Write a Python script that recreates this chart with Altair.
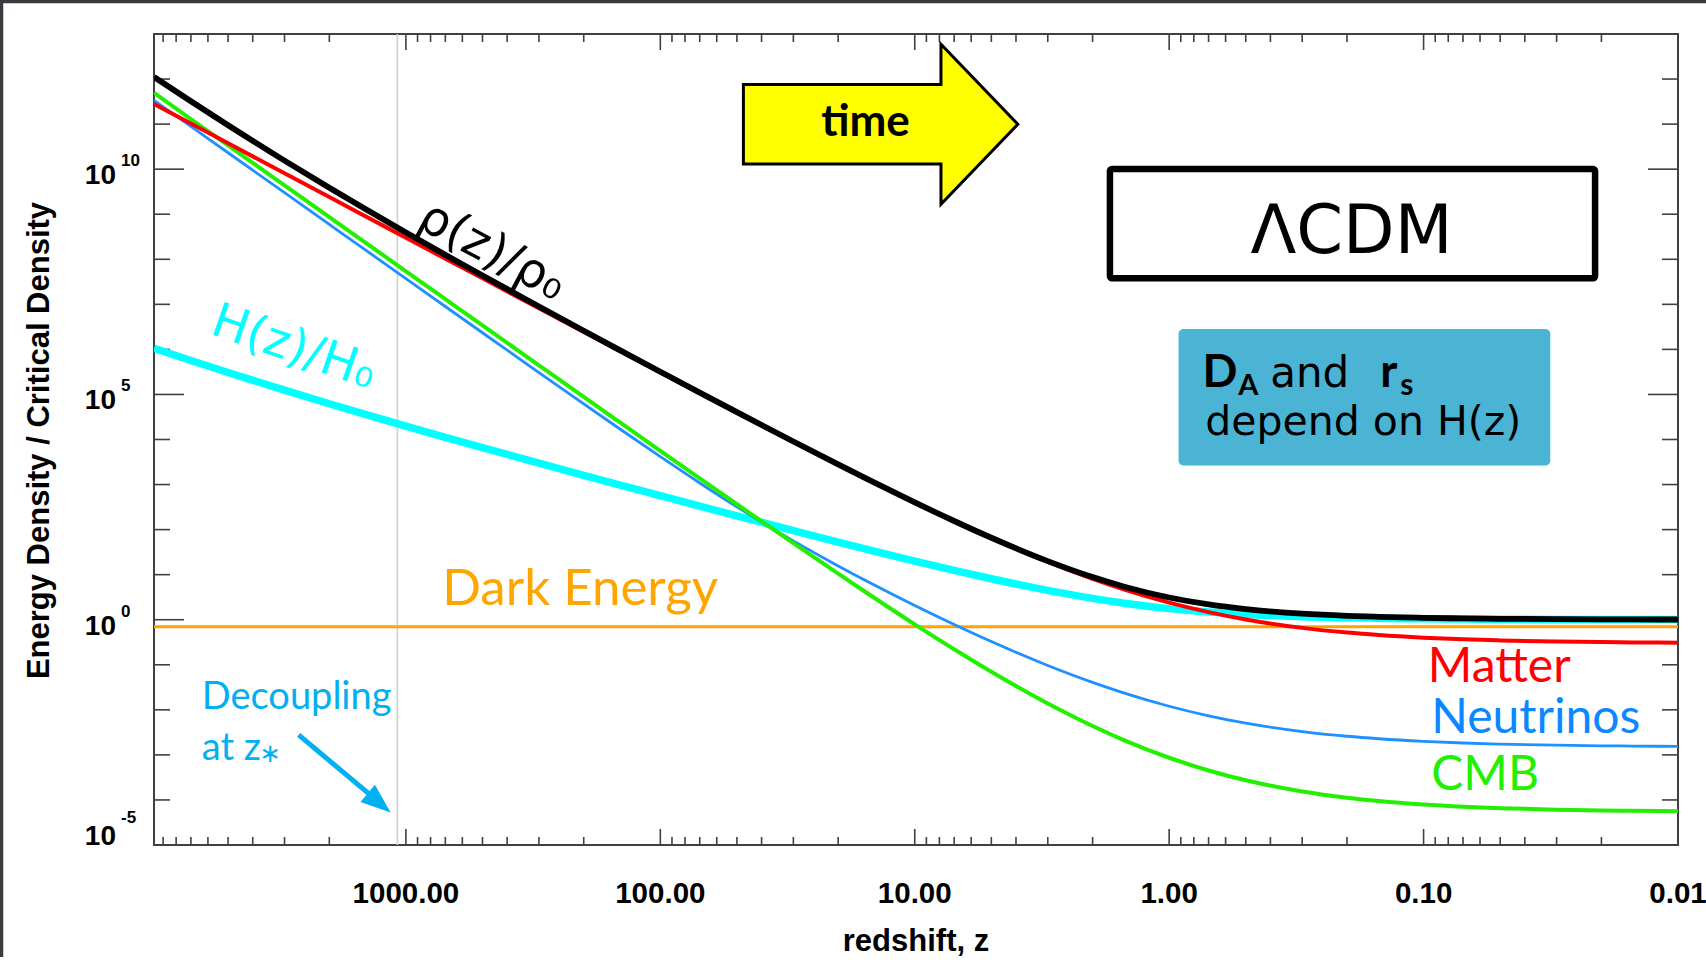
import altair as alt
import pandas as pd

# ---------------- values ----------------
Z = [9775, 7000, 5000, 3000, 2000, 1500, 1000, 700, 500, 300, 200, 150, 100, 70, 50,
     30, 20, 15, 10, 7, 5, 3, 2, 1.5, 1, 0.7, 0.5, 0.3, 0.2, 0.15, 0.1, 0.07, 0.05,
     0.03, 0.02, 0.015, 0.01]
MATTER = [2.80e11, 1.029e11, 3.752e10, 8.11e9, 2.404e9, 1.0145e9, 3.009e8, 1.033e8,
          3.772e7, 8.18e6, 2.436e6, 1.033e6, 3.091e5, 1.0737e5, 3.98e4, 8937, 2778,
          1229, 399.3, 153.6, 64.8, 19.2, 8.1, 4.688, 2.4, 1.474, 1.0125, 0.6591,
          0.5184, 0.4563, 0.3993, 0.3675, 0.3473, 0.3278, 0.3184, 0.3137, 0.3091]
CMB = [4.93e11, 1.297e11, 3.379e10, 4.38e9, 8.66e8, 2.741e8, 5.42e7, 1.304e7, 3.402e6,
       4.434e5, 8.81e4, 2.808e4, 5619, 1372, 365.3, 49.87, 10.50, 3.539, 0.7906,
       0.2212, 0.0700, 0.01382, 0.004374, 0.002109, 8.64e-4, 4.51e-4, 2.734e-4,
       1.542e-4, 1.120e-4, 9.445e-5, 7.906e-5, 7.078e-5, 6.564e-5, 6.078e-5,
       5.845e-5, 5.731e-5, 5.619e-5]
NEUTRINOS = [3.38e11, 8.89e10, 2.314e10, 3.00e9, 5.93e8, 1.878e8, 3.717e7, 8.948e6,
             2.339e6, 3.064e5, 6.161e4, 1.992e4, 4149, 1083, 319.8, 56.26, 15.64,
             6.605, 2.069, 0.7828, 0.3275, 0.09647, 0.04061, 0.02348, 0.01202,
             7.377e-3, 5.066e-3, 3.297e-3, 2.593e-3, 2.282e-3, 1.997e-3, 1.838e-3,
             1.736e-3, 1.639e-3, 1.592e-3, 1.569e-3, 1.546e-3]
TOTAL = [1.111e12, 3.215e11, 9.445e10, 1.549e10, 3.863e9, 1.4764e9, 3.923e8, 1.2529e8,
         4.346e7, 8.929e6, 2.586e6, 1.081e6, 3.1887e5, 1.0983e5, 4.0486e4, 9044, 2805,
         1240, 402.9, 155.3, 65.9, 20.01, 8.845, 5.413, 3.113, 2.182, 1.718, 1.363,
         1.221, 1.1586, 1.1014, 1.0694, 1.0491, 1.0295, 1.0200, 1.0153, 1.0107]
HUBBLE = [1.054e6, 5.67e5, 3.073e5, 1.245e5, 6.215e4, 3.842e4, 1.981e4, 1.119e4, 6592,
          2988, 1608, 1040, 564.7, 331.4, 201.2, 95.1, 52.96, 35.21, 20.07, 12.46,
          8.118, 4.473, 2.974, 2.327, 1.764, 1.477, 1.311, 1.167, 1.105, 1.076, 1.049,
          1.034, 1.024, 1.015, 1.010, 1.008, 1.005]
DARK_ENERGY = 0.7
Z_DECOUPLING = 1080

# axis ticks / labels
X_DOMAIN = [0.01, 9775]
Y_DOMAIN = [1e-5, 1e13]
X_MAJOR = [1000, 100, 10, 1, 0.1, 0.01]
X_LABELS = ["1000.00", "100.00", "10.00", "1.00", "0.10", "0.01"]
X_MINOR = [9000, 8000, 7000, 6000, 5000, 4000, 3000, 2000,
           900, 800, 700, 600, 500, 400, 300, 200,
           90, 80, 70, 60, 50, 40, 30, 20,
           9, 8, 7, 6, 5, 4, 3, 2,
           0.9, 0.8, 0.7, 0.6, 0.5, 0.4, 0.3, 0.2,
           0.09, 0.08, 0.07, 0.06, 0.05, 0.04, 0.03, 0.02]
Y_MAJOR = [1e10, 1e5, 1, 1e-5]
Y_MINOR = [1e12, 1e11, 1e9, 1e8, 1e7, 1e6, 1e4, 1e3, 1e2, 1e1,
           1e-1, 1e-2, 1e-3, 1e-4]
Y_LABEL_VALUES = [1e10, 1e5, 1]
Y_LABEL_EXP = ["10", "5", "0"]
Y_BOTTOM_VALUE = [1e-5]
Y_BOTTOM_EXP = ["-5"]
X_TITLE = "redshift, z"
Y_TITLE = "Energy Density / Critical Density"

# ---------------- layout / style ----------------
W, H = 1524, 811
PAD = {"left": 154, "top": 34, "right": 28, "bottom": 112}
AXIS_FONT = "Liberation Sans"
LABEL_FONT = "Lato"
BOX_FONT = "DejaVu Sans"
TICK_COLOR = "#404040"

xs = alt.Scale(type="log", domain=X_DOMAIN, reverse=True, nice=False)
ys = alt.Scale(type="log", domain=Y_DOMAIN, nice=False)

df = pd.DataFrame({"z": Z, "matter": MATTER, "cmb": CMB, "nu": NEUTRINOS,
                   "total": TOTAL, "hubble": HUBBLE})


def X(field):
    return alt.X(field, type="quantitative", scale=xs, axis=None)


def Y(field):
    return alt.Y(field, type="quantitative", scale=ys, axis=None)


def line(col, color, width):
    return alt.Chart(df).mark_line(color=color, strokeWidth=width, interpolate="monotone",
                                   clip=True, strokeJoin="round").encode(
        x=X("z"), y=Y(col))


def one(**cols):
    return pd.DataFrame({k: [v] for k, v in cols.items()})


def text(t, zx, yv, **kw):
    return alt.Chart(one(x=zx, y=yv, t=t)).mark_text(**kw).encode(
        x=X("x"), y=Y("y"), text="t:N")


layers = []

# frame strips of the slide (decoration) and a white right margin
layers.append(alt.Chart(one(a=0)).mark_rule(color="white", strokeWidth=4).encode(
    x=alt.value(W + PAD["right"] - 1), y=alt.value(-PAD["top"]),
    y2=alt.value(H + PAD["bottom"])))
layers.append(alt.Chart(one(a=0)).mark_rule(color="#383c41", strokeWidth=3.5).encode(
    x=alt.value(-152.5), y=alt.value(-34), y2=alt.value(H + PAD["bottom"])))
layers.append(alt.Chart(one(a=0)).mark_rule(color="#383c41", strokeWidth=3.5).encode(
    y=alt.value(-32.5), x=alt.value(-154), x2=alt.value(W + PAD["right"])))


# axis ticks (inward, drawn as rules through the scales)
def xticks(vals, length, top):
    d = pd.DataFrame({"v": vals})
    if top:
        enc = dict(y=alt.value(0), y2=alt.value(length))
    else:
        enc = dict(y=alt.value(H), y2=alt.value(H - length))
    return alt.Chart(d).mark_rule(color=TICK_COLOR, strokeWidth=1.6).encode(x=X("v"), **enc)


def yticks(vals, length, right):
    d = pd.DataFrame({"v": vals})
    if right:
        enc = dict(x=alt.value(W), x2=alt.value(W - length))
    else:
        enc = dict(x=alt.value(0), x2=alt.value(length))
    return alt.Chart(d).mark_rule(color=TICK_COLOR, strokeWidth=1.6).encode(y=Y("v"), **enc)


layers += [xticks(X_MAJOR, 16, False), xticks(X_MINOR, 8, False),
           xticks(X_MAJOR, 16, True), xticks(X_MINOR, 8, True),
           yticks(Y_MAJOR, 30, False), yticks(Y_MINOR, 16, False),
           yticks(Y_MAJOR, 30, True), yticks(Y_MINOR, 16, True)]

# x tick labels
layers.append(alt.Chart(pd.DataFrame({"v": X_MAJOR, "t": X_LABELS})).mark_text(
    font=AXIS_FONT, fontWeight="bold", fontSize=29.5, align="center", baseline="alphabetic",
    color="black").encode(x=X("v"), y=alt.value(H + 58), text="t:N"))

# y tick labels 10^n
ylab = pd.DataFrame({"v": Y_LABEL_VALUES, "e": Y_LABEL_EXP})
ybot = pd.DataFrame({"v": Y_BOTTOM_VALUE, "e": Y_BOTTOM_EXP})
for d, shift in ((ylab, 0), (ybot, -15)):
    layers.append(alt.Chart(d).mark_text(text="10", font=AXIS_FONT, fontWeight="bold",
                                         fontSize=28, align="right", baseline="alphabetic",
                                         dy=15 + shift, color="black").encode(
        x=alt.value(-38), y=Y("v")))
    layers.append(alt.Chart(d).mark_text(font=AXIS_FONT, fontWeight="bold", fontSize=17,
                                         align="left", baseline="alphabetic",
                                         dy=-3 + shift * 1.25, color="black").encode(
        x=alt.value(-33), y=Y("v"), text="e:N"))

# axis titles
layers.append(alt.Chart(one(t=X_TITLE)).mark_text(
    font=AXIS_FONT, fontWeight="bold", fontSize=31, align="center", baseline="alphabetic",
    color="black").encode(x=alt.value(W / 2), y=alt.value(H + 106), text="t:N"))
layers.append(alt.Chart(one(t=Y_TITLE)).mark_text(
    font=AXIS_FONT, fontWeight="bold", fontSize=31, align="center", baseline="alphabetic",
    angle=270, color="black").encode(x=alt.value(-105), y=alt.value(H / 2 + 1), text="t:N"))

# decoupling line
layers.append(alt.Chart(one(zd=Z_DECOUPLING)).mark_rule(color="#cfcfcf", strokeWidth=1.6)
              .encode(x=X("zd")))

# dark energy
layers.append(alt.Chart(one(de=DARK_ENERGY)).mark_rule(color="#FFA500", strokeWidth=3)
              .encode(y=Y("de")))

# curves
layers += [line("hubble", "#00FFFF", 7.5),
           line("nu", "#1E90FF", 2.8),
           line("cmb", "#22F000", 4),
           line("matter", "#FF0000", 4),
           line("total", "#000000", 5.8)]

# time arrow
ARROW = "M -1 -0.289 L 0.44 -0.289 L 0.44 -0.583 L 1 0 L 0.44 0.583 L 0.44 0.289 L -1 0.289 Z"
layers.append(alt.Chart(one(x=13.62, y=9.94e10)).mark_point(
    shape=ARROW, size=75300, filled=True, fill="#FFFF00", stroke="black", strokeWidth=3,
    opacity=1, fillOpacity=1, strokeOpacity=1, strokeJoin="miter").encode(x=X("x"), y=Y("y")))
layers.append(text("time", 15.62, 5.33e10, font=LABEL_FONT, fontWeight="bold", fontSize=44,
                   align="center", baseline="alphabetic", color="black"))

# LCDM box
layers.append(alt.Chart(one(x=1.709, x2=0.02118, y=1.006e10, y2=3.79e7)).mark_rect(
    fill="white", stroke="black", strokeWidth=6.5, cornerRadius=2).encode(
    x=X("x"), x2="x2", y=Y("y"), y2="y2"))
layers.append(text("ΛCDM", 0.192, 1.373e8, font=BOX_FONT, fontSize=67, align="center",
                   baseline="alphabetic", color="black"))

# blue box
layers.append(alt.Chart(one(x=0.9185, x2=0.03177, y=2.82e6, y2=2641)).mark_rect(
    fill="#4BB4D4", cornerRadius=5).encode(x=X("x"), x2="x2", y=Y("y"), y2="y2"))
layers.append(text("D", 0.74, 1.5e5, font=LABEL_FONT, fontWeight="bold", fontSize=46,
                   align="left", baseline="alphabetic", color="black"))
layers.append(text("A", 0.535, 9.81e4, font=LABEL_FONT, fontWeight="bold", fontSize=29,
                   align="left", baseline="alphabetic", color="black"))
layers.append(text("and", 0.4006, 1.5e5, font=BOX_FONT, fontSize=42,
                   align="left", baseline="alphabetic", color="black"))
layers.append(text("r", 0.148, 1.5e5, font=LABEL_FONT, fontWeight="bold", fontSize=46,
                   align="left", baseline="alphabetic", color="black"))
layers.append(text("s", 0.1235, 9.81e4, font=LABEL_FONT, fontWeight="bold", fontSize=30,
                   align="left", baseline="alphabetic", color="black"))
layers.append(text("depend on H(z)", 0.7212, 1.269e4, font=BOX_FONT, fontSize=41,
                   align="left", baseline="alphabetic", color="black"))

# curve labels
layers.append(text("Matter", 0.09627, 0.04227, font=LABEL_FONT, fontSize=48, align="left",
                   baseline="alphabetic", color="#FF0000"))
layers.append(text("Neutrinos", 0.09326, 3.02e-3, font=LABEL_FONT, fontSize=48, align="left",
                   baseline="alphabetic", color="#0A88FF"))
layers.append(text("CMB", 0.09326, 1.667e-4, font=LABEL_FONT, fontSize=48, align="left",
                   baseline="alphabetic", color="#22F000"))
layers.append(text("Dark Energy", 719.8, 2.133, font=LABEL_FONT, fontSize=51, align="left",
                   baseline="alphabetic", color="#FFA500"))
layers.append(text("ρ(z)/ρ₀", 459.2, 1.49e8, font=BOX_FONT, fontSize=48, align="center",
                   baseline="middle", angle=28, color="black"))
layers.append(text("H(z)/H₀", 2766, 1.068e6, font=BOX_FONT, fontSize=48, align="center",
                   baseline="middle", angle=19, color="#00FFFF"))

# decoupling note
layers.append(text("Decoupling", 6339, 0.01031, font=LABEL_FONT, fontSize=38, align="left",
                   baseline="alphabetic", color="#00B0F0"))
layers.append(text("at z", 6339, 7.72e-4, font=LABEL_FONT, fontSize=38, align="left",
                   baseline="alphabetic", color="#00B0F0"))
layers.append(text("∗", 3773, 6.97e-4, font=BOX_FONT, fontSize=26, align="left",
                   baseline="alphabetic", color="#00B0F0"))
arrow_df = pd.DataFrame({"x": [2638.5, 1381], "y": [2.773e-3, 1.291e-4]})
layers.append(alt.Chart(arrow_df).mark_line(color="#00B0F0", strokeWidth=5,
                                            strokeCap="butt").encode(x=X("x"), y=Y("y")))
layers.append(alt.Chart(one(x=1274, y=8.57e-5)).mark_point(
    shape="M 1 0 L -1 0.75 L -1 -0.75 Z", size=900, angle=40, filled=True, fill="#00B0F0",
    strokeWidth=0, opacity=1).encode(x=X("x"), y=Y("y")))

chart = alt.layer(*layers).properties(
    width=W, height=H,
    autosize=alt.AutoSizeParams(type="none"),
    padding=PAD,
    background="white",
).configure_view(stroke="#404040", strokeWidth=2)

chart.save("out.html", embed_options={"renderer": "svg", "actions": False})
